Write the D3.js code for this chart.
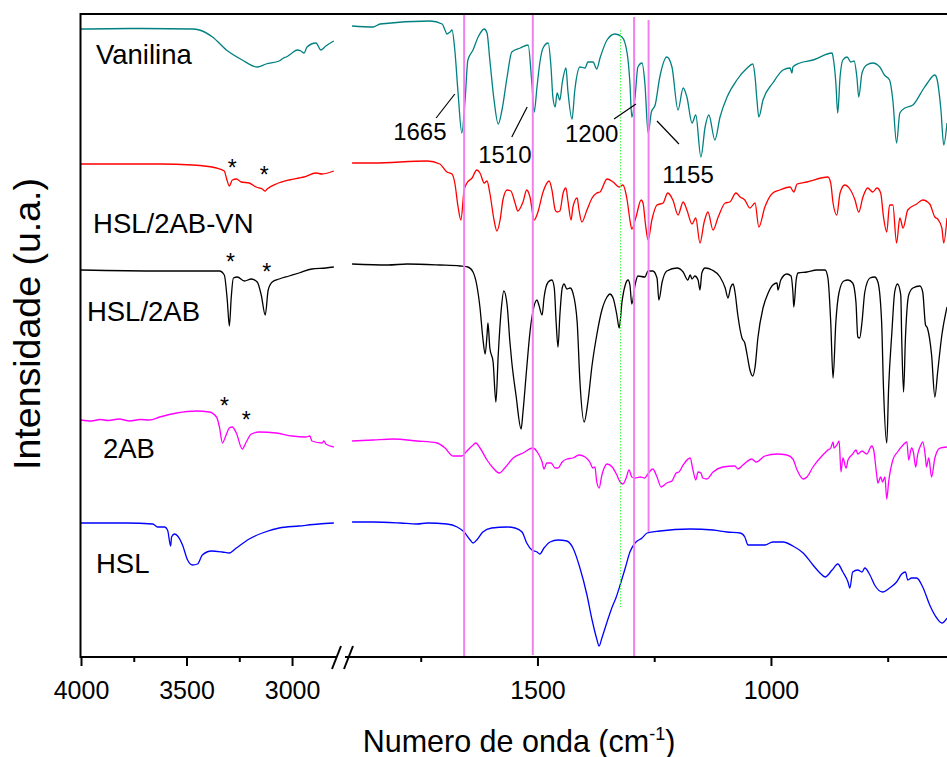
<!DOCTYPE html>
<html><head><meta charset="utf-8">
<script src="https://cdn.jsdelivr.net/npm/d3@7"></script>
<style>
html,body{margin:0;padding:0;background:#fff;}
svg{display:block;font-family:"Liberation Sans",Arial,Helvetica,sans-serif;}
</style></head>
<body><svg id="c" width="947" height="757"></svg>
<script>
// ---- Data: [wavenumber (cm-1), intensity (u.a., offset-stacked)] ----
const vanilinaLeft = [[4000,628],[3769,628.5],[3472,628],[3439,627],[3377,620],[3311,607],[3236,597],[3165,590],[3123,593],[3061,596],[3040,599],[3028,600],[3000,604],[2976,607],[2958,606],[2943,604],[2929,610],[2887,614],[2863,607],[2840,611],[2802,616]];
const vanilinaRight = [[1897,631],[1852,630],[1837,633],[1730,636],[1704,633],[1698,627],[1694,623],[1687,625],[1683,627],[1677,607],[1670,564],[1662,524],[1655,557],[1649,597],[1638,607],[1627,620],[1614,628],[1608,624],[1602,597],[1593,557],[1584,533],[1576,547],[1565,580],[1555,605],[1537,609],[1520,612],[1512,574],[1507,545],[1501,570],[1495,594],[1488,609],[1477,614],[1471,590],[1467,560],[1462,550],[1458,564],[1452,557],[1447,574],[1439,589],[1435,567],[1426,538],[1420,567],[1409,590],[1398,589],[1392,595],[1381,595],[1373,588],[1366,599],[1351,617],[1334,623],[1319,620],[1308,604],[1302,574],[1298,540],[1291,560],[1285,590],[1276,594],[1270,574],[1263,524],[1256,545],[1248,552],[1238,580],[1223,600],[1212,590],[1199,547],[1188,569],[1180,560],[1169,534],[1161,542],[1150,500],[1141,530],[1133,542],[1120,517],[1109,540],[1094,560],[1073,577],[1051,589],[1039,593],[1034,580],[1030,557],[1026,540],[1017,557],[996,574],[974,587],[959,589],[955,584],[953,590],[938,594],[910,597],[869,604],[867,600],[861,574],[857,544],[852,580],[846,597],[837,600],[829,595],[822,596],[816,580],[812,560],[805,584],[795,592],[782,594],[767,590],[757,582],[746,577],[739,557],[731,514],[724,544],[713,549],[696,552],[675,567],[665,574],[649,582],[645,579],[636,547],[630,512],[623,534]];

const vnLeft = [[4000,493],[3627,493],[3472,492],[3358,489],[3321,486],[3311,479],[3297,471],[3283,477],[3264,478],[3241,475],[3203,474],[3170,470],[3141,468],[3127,466],[3118,468],[3075,473],[3014,477],[2967,479],[2943,480],[2887,484],[2858,483],[2802,486]];
const vnRight = [[1897,494],[1852,494],[1736,496],[1709,493],[1694,485],[1683,483],[1677,474],[1670,450],[1664,437],[1657,467],[1651,474],[1640,479],[1630,487],[1623,484],[1614,474],[1608,476],[1602,464],[1593,437],[1587,426],[1580,437],[1574,457],[1565,467],[1557,466],[1548,454],[1542,446],[1531,455],[1523,467],[1516,460],[1507,437],[1499,445],[1488,465],[1475,476],[1469,467],[1462,447],[1458,445],[1452,446],[1445,464],[1439,469],[1435,457],[1428,437],[1424,450],[1415,459],[1411,447],[1405,435],[1394,447],[1383,459],[1373,464],[1366,465],[1351,478],[1338,475],[1325,470],[1317,472],[1308,457],[1302,437],[1298,428],[1289,440],[1278,457],[1274,454],[1268,430],[1263,417],[1255,437],[1244,452],[1231,454],[1221,464],[1210,457],[1199,442],[1188,455],[1180,447],[1169,433],[1161,439],[1152,414],[1143,435],[1135,445],[1124,427],[1113,440],[1098,454],[1088,455],[1075,464],[1066,460],[1056,457],[1045,449],[1034,454],[1026,430],[1013,450],[996,464],[981,467],[959,470],[951,465],[944,473],[923,475],[878,480],[872,474],[867,454],[859,442],[852,464],[842,472],[831,468],[820,457],[812,445],[803,460],[793,469],[782,465],[773,469],[765,464],[759,440],[752,425],[746,452],[739,452],[731,414],[724,439],[717,429],[707,447],[688,453],[675,457],[660,453],[649,440],[643,438],[634,429],[630,414],[623,439]];

const hsl2abLeft = [[4000,387],[3627,386],[3344,386],[3321,382],[3307,357],[3297,331],[3288,360],[3278,379],[3259,380],[3226,376],[3193,378],[3165,375],[3146,362],[3127,342],[3113,367],[3094,375],[3061,378],[3014,381],[2967,384],[2906,388],[2840,389],[2802,390]];
const hsl2abRight = [[1897,393],[1820,392],[1779,393],[1709,392],[1666,391],[1649,390],[1638,385],[1630,372],[1623,349],[1617,319],[1612,303],[1608,322],[1606,334],[1602,309],[1595,295],[1589,255],[1584,302],[1578,345],[1572,366],[1565,352],[1559,315],[1555,295],[1546,262],[1535,228],[1531,245],[1523,289],[1516,325],[1510,345],[1501,357],[1497,352],[1490,342],[1486,359],[1477,375],[1469,377],[1464,369],[1460,335],[1456,310],[1452,342],[1447,369],[1443,373],[1437,368],[1430,369],[1424,364],[1415,335],[1409,275],[1400,235],[1392,255],[1383,292],[1373,322],[1362,347],[1351,360],[1345,363],[1338,359],[1330,342],[1325,329],[1319,355],[1312,372],[1306,377],[1302,372],[1298,353],[1291,372],[1285,381],[1270,380],[1263,386],[1253,386],[1244,379],[1240,357],[1233,375],[1223,386],[1201,389],[1188,385],[1178,377],[1173,382],[1169,378],[1163,381],[1156,377],[1152,367],[1148,384],[1141,389],[1126,387],[1109,380],[1098,369],[1092,359],[1086,370],[1081,373],[1077,365],[1071,342],[1062,319],[1056,314],[1051,302],[1045,287],[1039,281],[1034,290],[1028,319],[1017,349],[1006,364],[996,372],[987,374],[985,367],[979,377],[966,383],[957,381],[953,365],[951,350],[946,377],[942,384],[923,385],[902,387],[884,387],[878,379],[872,335],[867,279],[861,335],[854,365],[844,376],[835,377],[825,374],[818,355],[814,320],[810,319],[805,335],[799,365],[788,379],[778,380],[771,375],[763,335],[759,269],[752,214],[748,269],[741,325],[735,365],[729,373],[722,362],[720,319],[716,265],[712,319],[705,362],[696,369],[681,371],[675,365],[669,332],[665,329],[656,302],[649,260],[643,285],[634,322],[623,350]];

const ab2Left = [[4000,237],[3950,236],[3910,237.5],[3870,236.5],[3820,238],[3769,236],[3720,237.5],[3675,237],[3627,240],[3547,244],[3453,246],[3392,245],[3358,240],[3344,230],[3330,214],[3316,220],[3297,229],[3283,230],[3264,224],[3236,208],[3217,215],[3193,223],[3156,225],[3075,224],[3000,221],[2934,220],[2915,221],[2906,216],[2858,214],[2849,216],[2840,213],[2802,210]];
const ab2Right = [[1897,216],[1852,217],[1809,218],[1758,216],[1715,214],[1698,209],[1681,201],[1662,201],[1651,206],[1640,211],[1632,214],[1623,209],[1608,197],[1595,189],[1582,184],[1570,189],[1552,199],[1531,204],[1510,209],[1499,204],[1490,195],[1486,188],[1480,194],[1471,194],[1462,189],[1456,189],[1447,195],[1437,198],[1424,199],[1411,202],[1398,200],[1388,195],[1381,189],[1377,190],[1373,175],[1368,169],[1362,182],[1351,193],[1340,190],[1330,182],[1323,175],[1317,173],[1310,179],[1304,187],[1298,180],[1291,179],[1280,180],[1270,179],[1265,182],[1253,188],[1244,180],[1235,170],[1223,174],[1212,176],[1203,184],[1197,185],[1188,192],[1173,199],[1167,187],[1161,177],[1156,185],[1150,184],[1146,179],[1137,178],[1124,185],[1103,190],[1077,191],[1071,188],[1060,192],[1041,198],[1032,195],[1013,201],[987,203],[966,202],[953,198],[944,187],[931,178],[923,180],[910,190],[889,202],[878,207],[872,209],[867,215],[865,209],[859,212],[854,216],[850,185],[846,199],[839,189],[835,197],[825,203],[818,207],[814,203],[805,206],[795,203],[784,211],[780,207],[773,180],[771,174],[765,180],[761,175],[756,180],[752,158],[748,175],[739,197],[729,205],[717,212],[709,215],[705,197],[699,209],[695,205],[690,190],[686,202],[679,212],[675,215],[669,199],[667,190],[662,199],[656,180],[649,199],[638,209],[623,210]];

const hslLeft = [[4000,134],[3783,134],[3660,133],[3637,130],[3604,130],[3590,127],[3575,111],[3571,120],[3557,123],[3542,121],[3519,112],[3495,97],[3472,92],[3448,93],[3425,102],[3382,106],[3330,105],[3297,104],[3264,109],[3203,118],[3141,124],[3061,129],[2967,131],[2873,133],[2802,134]];
const hslRight = [[1897,135],[1852,135],[1794,134],[1758,133],[1736,134],[1694,133],[1672,130],[1657,125],[1644,117],[1638,114],[1630,117],[1617,125],[1598,129],[1565,130],[1548,129],[1533,125],[1523,114],[1512,107],[1501,105],[1495,103],[1486,109],[1473,115],[1456,117],[1437,116],[1424,109],[1409,89],[1394,62],[1383,37],[1373,18],[1368,11],[1362,19],[1351,35],[1340,50],[1332,59],[1323,72],[1312,89],[1302,105],[1291,114],[1276,119],[1265,124],[1238,126],[1173,128],[1124,127],[1094,125],[1066,124],[1056,120],[1049,112],[1034,112],[1013,112],[996,115],[974,115],[953,111],[931,104],[910,92],[895,84],[884,80],[869,87],[857,93],[846,85],[835,75],[831,69],[825,85],[814,87],[805,85],[799,89],[788,82],[778,72],[761,65],[746,69],[731,75],[720,83],[712,85],[707,77],[699,79],[688,79],[675,70],[660,52],[645,39],[634,34],[623,39]];

const seriesNames = ["Vanilina","HSL/2AB-VN","HSL/2AB","2AB","HSL"];
const seriesColors = ["#008080","#ff0000","#000000","#ff00ff","#0000ff"];
const leftData = [vanilinaLeft, vnLeft, hsl2abLeft, ab2Left, hslLeft];
const rightData = [vanilinaRight, vnRight, hsl2abRight, ab2Right, hslRight];
// label anchor: [wavenumber, intensity]
const labelAnchors = [[3929,593],[3943,424],[3972,336],[3896,199],[3929,84]];

// marked bands (wavenumber) and their vertical span (intensity)
const bandLines = [1657, 1510, 1293, 1262];
const bandSpans = [[643,0],[643,2],[640,0],[637,125]];
const dottedLine = [1322];
const dottedSpan = [[627,50]];

// annotations: text, text anchor [wn, int], leader from, leader to
const annText = ["1665","1510","1200","1155"];
const annPos = [[1809,517],[1627,494],[1441,515],[1233,474]];
const annLeaderFrom = [[1717,539],[1555,520],[1336,538],[1244,536]];
const annLeaderTo = [[1677,563],[1522,550],[1289,553],[1197,513]];

// asterisks [wn, int]
const stars = [[3283,490],[3132,483],[3292,396],[3120,386],[3320,252],[3217,238]];

const ticksLeft = [4000,3500,3000];
const minorLeft = [3750,3250];
const ticksRight = [1500,1000];
const minorRight = [1750,1250,750];

// ---- Drawing ----
const svg = d3.select("#c");
const yTop = 14, yBot = 657;
const xL = d3.scaleLinear().domain([4000,2787]).range([81,337]);
const xR = d3.scaleLinear().domain([1910,623]).range([346,947]);
const y = d3.scaleLinear().domain([0,643]).range([yBot,yTop]);

const lineL = d3.line().x(d=>xL(d[0])).y(d=>y(d[1])).curve(d3.curveMonotoneX);
const lineR = d3.line().x(d=>xR(d[0])).y(d=>y(d[1])).curve(d3.curveMonotoneX);

const g = svg.append("g");
leftData.forEach((s,i)=>{
  g.append("path").attr("d",lineL(s)).attr("fill","none").attr("stroke",seriesColors[i]).attr("stroke-width",1.3);
});
rightData.forEach((s,i)=>{
  g.append("path").attr("d",lineR(s)).attr("fill","none").attr("stroke",seriesColors[i]).attr("stroke-width",1.3);
});

// band lines
bandLines.forEach((w,i)=>{
  svg.append("line").attr("x1",xR(w)).attr("x2",xR(w))
    .attr("y1",y(bandSpans[i][0])).attr("y2",y(bandSpans[i][1]))
    .attr("stroke","#f080f0").attr("stroke-width",2);
});
dottedLine.forEach((w,i)=>{
  svg.append("line").attr("x1",xR(w)).attr("x2",xR(w))
    .attr("y1",y(dottedSpan[i][0])).attr("y2",y(dottedSpan[i][1]))
    .attr("stroke","#40ff40").attr("stroke-width",1).attr("stroke-dasharray","1.5,1.5");
});

// series labels
seriesNames.forEach((n,i)=>{
  svg.append("text").attr("x",xL(labelAnchors[i][0])).attr("y",y(labelAnchors[i][1]))
    .attr("font-size",27.5).attr("fill","#000").text(n);
});

// annotations
annText.forEach((t,i)=>{
  svg.append("text").attr("x",xR(annPos[i][0])).attr("y",y(annPos[i][1]))
    .attr("font-size",24).attr("fill","#000").text(t);
  svg.append("line").attr("x1",xR(annLeaderFrom[i][0])).attr("y1",y(annLeaderFrom[i][1]))
    .attr("x2",xR(annLeaderTo[i][0])).attr("y2",y(annLeaderTo[i][1]))
    .attr("stroke","#000").attr("stroke-width",1.2);
});

// asterisks
stars.forEach(s=>{
  svg.append("text").attr("x",xL(s[0])).attr("y",y(s[1])+9).attr("text-anchor","middle")
    .attr("font-size",23).attr("fill","#000").text("*");
});

// frame: top and left
svg.append("line").attr("x1",80).attr("x2",947).attr("y1",yTop).attr("y2",yTop).attr("stroke","#000").attr("stroke-width",2);
svg.append("line").attr("x1",80.5).attr("x2",80.5).attr("y1",yTop-1).attr("y2",yBot+1).attr("stroke","#000").attr("stroke-width",2);

// bottom axes
function drawAxis(scale, major, minor){
  const a = svg.append("g").attr("transform",`translate(0,${yBot})`)
    .call(d3.axisBottom(scale).tickValues(major).tickSize(9).tickPadding(15).tickFormat(d3.format("d")));
  a.select(".domain").remove();
  a.selectAll(".tick line").attr("stroke","#000").attr("stroke-width",2);
  a.selectAll(".tick text").attr("font-size",25).attr("fill","#000").attr("font-family","'Liberation Sans',Arial,sans-serif");
  const b = svg.append("g").attr("transform",`translate(0,${yBot})`)
    .call(d3.axisBottom(scale).tickValues(minor).tickSize(5).tickFormat(""));
  b.select(".domain").remove();
  b.selectAll(".tick line").attr("stroke","#000").attr("stroke-width",2);
  svg.append("line").attr("x1",scale.range()[0]-1).attr("x2",scale.range()[1]).attr("y1",yBot).attr("y2",yBot)
    .attr("stroke","#000").attr("stroke-width",2);
}
drawAxis(xL, ticksLeft, minorLeft);
drawAxis(xR, ticksRight, minorRight);

// break marks
[[332,669,341,646],[344,669,353,646]].forEach(b=>{
  svg.append("line").attr("x1",b[0]).attr("y1",b[1]).attr("x2",b[2]).attr("y2",b[3])
    .attr("stroke","#000").attr("stroke-width",2);
});

// axis titles
const xt = svg.append("text").attr("x",519).attr("y",752).attr("text-anchor","middle")
  .attr("font-size",30.5).attr("fill","#000");
xt.append("tspan").text("Numero de onda (cm");
xt.append("tspan").attr("font-size",18).attr("dy",-12).text("-1");
xt.append("tspan").attr("dy",12).text(")");

svg.append("text").attr("transform","translate(40,324) rotate(-90)").attr("text-anchor","middle")
  .attr("font-size",37.5).attr("fill","#000").text("Intensidade (u.a.)");
</script></body></html>
